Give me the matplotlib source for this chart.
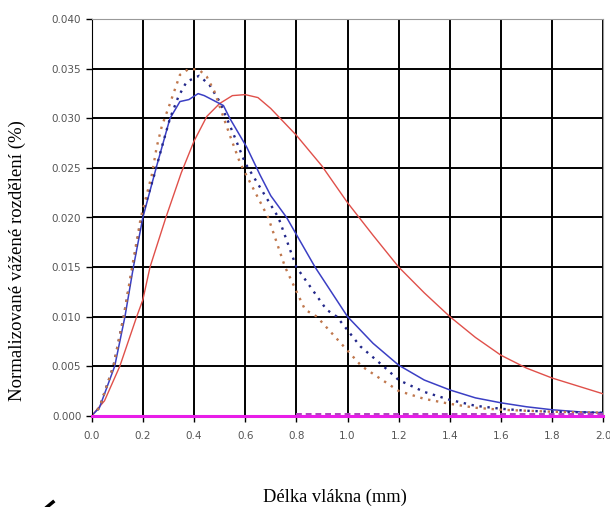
import matplotlib
matplotlib.use("Agg")
import matplotlib.pyplot as plt
from matplotlib.lines import Line2D
import numpy as np

# dlouha vlakna - cervena plna
red_x = [0.0, 0.05, 0.11, 0.176, 0.2, 0.228, 0.29, 0.35, 0.40, 0.45, 0.50, 0.55, 0.60, 0.65,
         0.70, 0.80, 0.90, 1.00, 1.10, 1.20, 1.30, 1.40, 1.50, 1.60, 1.70, 1.80, 1.90, 2.00]
red_y = [0.0, 0.0015, 0.005, 0.010, 0.0117, 0.015, 0.020, 0.0245, 0.0277, 0.0302, 0.0315, 0.0323,
         0.0324, 0.0321, 0.0310, 0.0283, 0.0252, 0.0215, 0.0182, 0.0150, 0.0124, 0.0100, 0.0079,
         0.0061, 0.0048, 0.0038, 0.0030, 0.0022]

# modra plna
blue_x = [0.0, 0.03, 0.09, 0.13, 0.163, 0.20, 0.254, 0.306, 0.345, 0.38, 0.416, 0.44, 0.515, 0.54,
          0.606, 0.658, 0.70, 0.762, 0.873, 1.0, 1.1, 1.2, 1.3, 1.4, 1.5, 1.6, 1.7, 1.8, 1.9, 2.0]
blue_y = [0.0, 0.0008, 0.005, 0.010, 0.015, 0.020, 0.0252, 0.030, 0.0317, 0.0319, 0.0325, 0.0323,
          0.0313, 0.0300, 0.0271, 0.0243, 0.0222, 0.020, 0.015, 0.010, 0.0073, 0.0051, 0.0036,
          0.0026, 0.0018, 0.0013, 0.0009, 0.0006, 0.0004, 0.0003]

# modra teckovana
bdot_x = [0.0, 0.03, 0.085, 0.125, 0.16, 0.195, 0.247, 0.274, 0.306, 0.339, 0.371, 0.42, 0.46,
          0.50, 0.553, 0.60, 0.73, 0.80, 0.918, 0.958, 1.05, 1.14, 1.2, 1.3, 1.4, 1.5, 1.6, 1.7,
          1.8, 2.0]
bdot_y = [0.0, 0.0008, 0.005, 0.010, 0.015, 0.020, 0.0245, 0.0271, 0.030, 0.0322, 0.0337, 0.0343,
          0.0334, 0.0317, 0.0285, 0.0255, 0.020, 0.015, 0.0107, 0.010, 0.0070, 0.005, 0.0036,
          0.0024, 0.0016, 0.0010, 0.0007, 0.0005, 0.0004, 0.0003]

# cervena teckovana
rdot_x = [0.0, 0.03, 0.085, 0.125, 0.158, 0.192, 0.235, 0.254, 0.274, 0.306, 0.345, 0.38, 0.42,
          0.45, 0.48, 0.54, 0.58, 0.69, 0.756, 0.834, 0.88, 1.055, 1.2, 1.3, 1.4, 1.5, 1.6, 1.8, 2.0]
rdot_y = [0.0, 0.0008, 0.005, 0.010, 0.015, 0.020, 0.0243, 0.0271, 0.0292, 0.0315, 0.0344, 0.0350,
          0.0349, 0.0342, 0.0327, 0.0283, 0.0255, 0.020, 0.015, 0.0107, 0.010, 0.005, 0.0025,
          0.0017, 0.0012, 0.0008, 0.0006, 0.0004, 0.0003]

# nulove rady
zero_x = [0.0, 2.0]
zero_y = [0.0, 0.0]
tail_x = [0.8, 2.0]
tail_y = [0.00015, 0.00015]

xticks = np.arange(0, 2.01, 0.2)
yticks = np.arange(0, 0.0401, 0.005)

fig = plt.figure(figsize=(6.1, 5.07), dpi=100)
ax = fig.add_axes([91.7/610, 1-415.7/507, (603.3-91.7)/610, (415.7-19.3)/507])

ax.plot(red_x, red_y, color='#e0504a', lw=1.0)
ax.plot(blue_x, blue_y, color='#3b3fc4', lw=1.1)
ax.plot(bdot_x, bdot_y, color='#23288a', lw=1.7, linestyle=(0, (1, 2.4)))
ax.plot(rdot_x, rdot_y, color='#c0784e', lw=1.7, linestyle=(0, (1, 2.4)))
ax.plot(zero_x, zero_y, color='#e81ee8', lw=2.2, clip_on=False, zorder=3)
ax.plot(tail_x, tail_y, color='#b040c0', lw=1.4, linestyle=(0, (3, 2)), zorder=3)

ax.set_xlim(0, 2.0)
ax.set_ylim(0, 0.040)
ax.set_xticks(xticks)
ax.set_yticks(yticks)
ax.set_xticklabels([f"{v:.1f}" for v in xticks])
ax.set_yticklabels([f"{v:.3f}" for v in yticks])
ax.grid(True, color='black', lw=1.4)
ax.tick_params(direction='out', length=4, width=1, colors='black', labelcolor='#555555',
               labelsize=7.5)
ax.tick_params(axis='y', pad=3.5)
ax.tick_params(axis='x', pad=7)
for s in ['top', 'right']:
    ax.spines[s].set_color('#999999')
for s in ['left', 'bottom']:
    ax.spines[s].set_color('black')

fig.text(17/610, 1-261/507, 'Normalizované vážené rozdělení (%)', rotation=90,
         family='Liberation Serif', fontsize=13.5, ha='center', va='center')
fig.text(335/610, 1-497/507, 'Délka vlákna (mm)', family='Liberation Serif',
         fontsize=13.3, ha='center', va='center')

# zbytek orezaneho znaku vlevo dole
fig.add_artist(Line2D([47/610, 53/610], [1-507/507, 1-502/507], color='black', lw=2.5,
                      transform=fig.transFigure))

fig.savefig('out.png', dpi=100)
